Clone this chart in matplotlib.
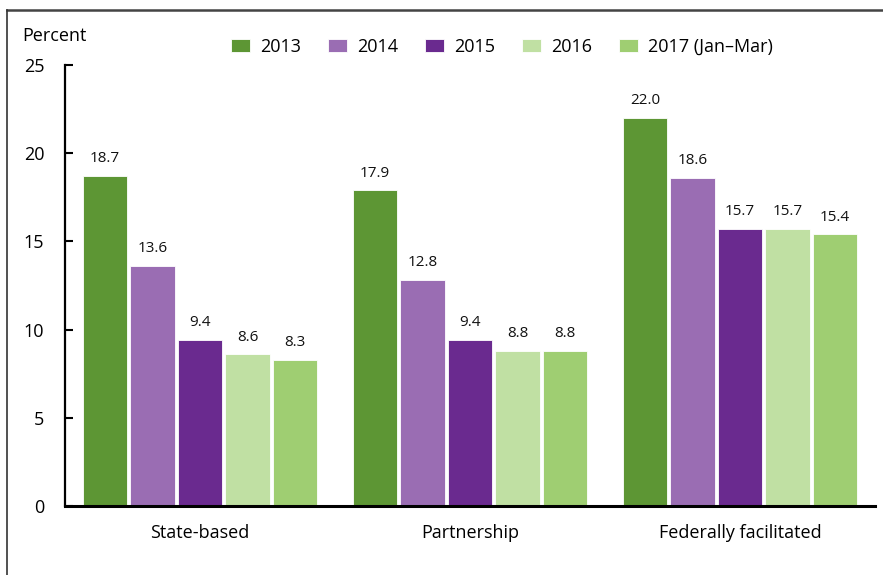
import matplotlib
matplotlib.use("Agg")
import matplotlib.pyplot as plt
from matplotlib.lines import Line2D
import numpy as np

plt.rcParams['font.family'] = ['Open Sans', 'DejaVu Sans']

categories = ["State-based", "Partnership", "Federally facilitated"]
series_labels = ["2013", "2014", "2015", "2016", "2017 (Jan\u2013Mar)"]
values = {
    "2013": [18.7, 17.9, 22.0],
    "2014": [13.6, 12.8, 18.6],
    "2015": [9.4, 9.4, 15.7],
    "2016": [8.6, 8.8, 15.7],
    "2017 (Jan\u2013Mar)": [8.3, 8.8, 15.4],
}
colors = ["#5d9634", "#9a6db3", "#6a2a8f", "#c0e0a3", "#9fce72"]
yticks = [0, 5, 10, 15, 20, 25]

W, H = 883, 575
fig = plt.figure(figsize=(W / 100, H / 100), dpi=100)
ax = fig.add_axes([65 / W, 1 - 506 / H, (875 - 65) / W, (506 - 65) / H])

x = np.arange(len(categories))
pitch = 47.5 / 270
bw = 44.5 / 270
handles = []
for i, lab in enumerate(series_labels):
    pos = x + (i - 2) * pitch
    bars = ax.bar(pos, values[lab], width=bw, color=colors[i], edgecolor='white', linewidth=0.6, label=lab)
    handles.append(bars)
    for xp, v in zip(pos, values[lab]):
        ax.annotate(f"{v:.1f}", (xp, v), xytext=(0, 7), textcoords='offset points',
                    ha='center', va='bottom', fontsize=11, color='#111111')

ax.set_xlim(-0.5, 2.5)
ax.set_ylim(0, 25)
ax.set_yticks(yticks)
ax.set_yticklabels([str(t) for t in yticks], fontsize=13)
ax.set_xticks(x)
ax.set_xticklabels(categories, fontsize=13)
ax.tick_params(axis='y', direction='in', length=6, width=1.5, pad=15)
ax.tick_params(axis='x', length=0, pad=13)
for s in ['top', 'right']:
    ax.spines[s].set_visible(False)
ax.spines['left'].set_linewidth(1.6)
ax.spines['bottom'].set_linewidth(2.2)

fig.text(22 / W, 1 - 36 / H, "Percent", fontsize=13, ha='left', va='center')

leg = fig.legend(handles=handles, labels=series_labels, loc='center',
                 bbox_to_anchor=(502 / W, 1 - 47 / H), ncol=5, frameon=False,
                 fontsize=13, handlelength=1.05, handleheight=0.7,
                 handletextpad=0.55, columnspacing=1.5)

fig.add_artist(Line2D([7 / W, 1.0], [1 - 10 / H, 1 - 10 / H], transform=fig.transFigure,
                      color='#444444', linewidth=1.8))
fig.add_artist(Line2D([7 / W, 7 / W], [1 - 10 / H, 0], transform=fig.transFigure,
                      color='#333333', linewidth=1.2))

fig.savefig("out.png", dpi=100)
